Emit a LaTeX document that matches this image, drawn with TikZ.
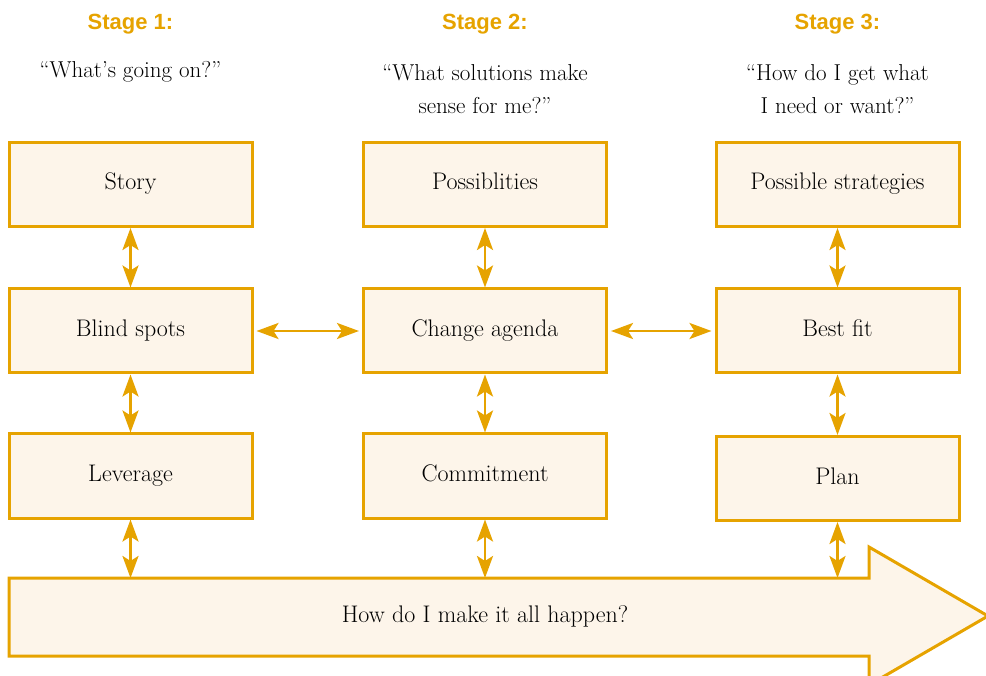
\documentclass[tikz,border=0pt]{standalone}
\usepackage{fontspec}
\newfontfamily\headfont{Liberation Sans}
\usetikzlibrary{arrows.meta}
\definecolor{org}{RGB}{230,163,0}
\definecolor{cream}{RGB}{253,245,234}
\tikzset{
  stagebox/.style={draw=org, fill=cream, line width=3pt, minimum width=243pt, minimum height=84pt, inner sep=0pt, text height=17pt, text depth=6pt, font=\fontsize{24}{28}\selectfont},
  stagehead/.style={text=org, font=\headfont\bfseries\fontsize{22}{26}\selectfont},
  quote/.style={align=center, font=\fontsize{23}{33}\selectfont},
  dbl/.style={draw=org, line width=2.8pt, {Stealth[length=22pt,width=16pt,inset=5pt]}-{Stealth[length=22pt,width=16pt,inset=5pt]}},
  bigarrow/.style={draw=org, fill=cream, line width=3pt, line join=miter}
}
\begin{document}
\begin{tikzpicture}[x=1pt,y=-1pt]
\useasboundingbox (0,0) rectangle (986,676);
\clip (0,0) rectangle (986,676);
% headers
\node[stagehead] (h1) at (130.5,24) {Stage 1:};
\node[stagehead] (h2) at (485,24) {Stage 2:};
\node[stagehead] (h3) at (837.5,24) {Stage 3:};
\node[quote] (q1) at (130.5,72) {“What’s going on?”};
\node[quote] (q2) at (485,89) {“What solutions make\\sense for me?”};
\node[quote] (q3) at (837.5,89) {“How do I get what\\I need or want?”};
% boxes
\node[stagebox] (story) at (130.5,184.5) {Story};
\node[stagebox] (blind) at (130.5,331) {Blind spots};
\node[stagebox] (lever) at (130.5,476) {Leverage};
\node[stagebox] (poss) at (485,184.5) {Possiblities};
\node[stagebox] (change) at (485,331) {Change agenda};
\node[stagebox] (commit) at (485,476) {Commitment};
\node[stagebox] (strat) at (837.5,184.5) {Possible strategies};
\node[stagebox] (best) at (837.5,331) {Best fit};
\node[stagebox] (plan) at (837.5,478.5) {Plan};
% big arrow
\draw[bigarrow] (9,578) -- (869,578) -- (869,547) -- (988,616) -- (869,685) -- (869,656) -- (9,656) -- cycle;
\node[font=\fontsize{24}{28}\selectfont] (happen) at (485,616) {How do I make it all happen?};
\coordinate (a1) at (130.5,578);
\coordinate (a2) at (485,578);
\coordinate (a3) at (837.5,578);
% connectors
\draw[dbl] (story) -- (blind);
\draw[dbl] (blind) -- (lever);
\draw[dbl] (lever) -- (a1);
\draw[dbl] (poss) -- (change);
\draw[dbl] (change) -- (commit);
\draw[dbl] (commit) -- (a2);
\draw[dbl] (strat) -- (best);
\draw[dbl] (best) -- (plan);
\draw[dbl] (plan) -- (a3);
\draw[dbl, shorten <=3pt, shorten >=3pt] (blind) -- (change);
\draw[dbl, shorten <=3pt, shorten >=3pt] (change) -- (best);
\end{tikzpicture}
\end{document}
